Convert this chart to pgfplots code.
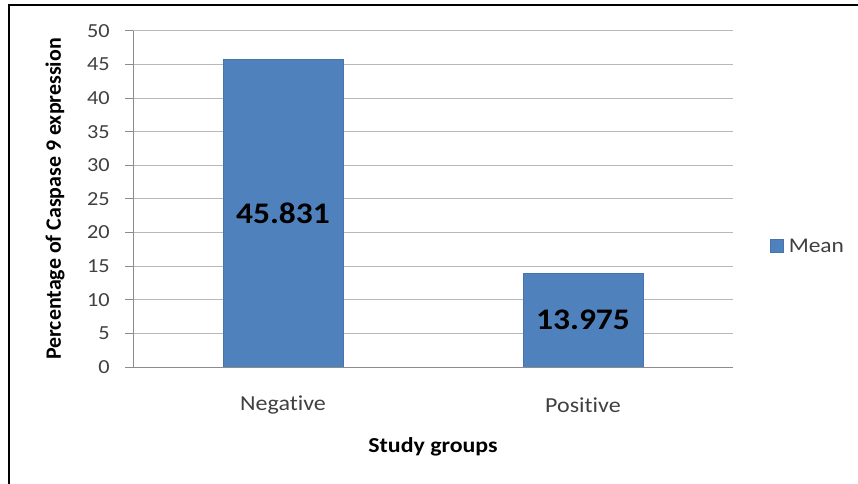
\documentclass[border=0pt]{standalone}
\usepackage{pgfplots}
\pgfplotsset{compat=1.18}
\usepackage{fontspec}
\setmainfont{Carlito}[FakeStretch=1.12, RawFeature=-liga]
\newfontfamily\ylabfont{Carlito}[RawFeature=-liga]
\definecolor{barblue}{HTML}{4F81BD}
\definecolor{gridgray}{HTML}{B8B8B8}
\definecolor{axgray}{HTML}{8C8C8C}
\definecolor{txtgray}{HTML}{404040}
\begin{document}
\begin{tikzpicture}
\useasboundingbox (0,0) rectangle (858bp,484bp);
\draw[line width=2.5bp] (9bp,0) -- (9bp,479bp) -- (858bp,479bp);
\begin{axis}[
  at={(133bp,117bp)}, anchor=south west,
  width=600bp, height=336bp, scale only axis,
  xmin=-0.5, xmax=1.5, ymin=0, ymax=50,
  ybar, bar width=120bp,
  xtick={0,1}, xticklabels={Negative,Positive},
  ytick={0,5,...,50},
  /pgf/number format/assume math mode=true,
  ymajorgrids, grid style={gridgray, line width=1bp},
  axis x line*=bottom, axis y line*=left,
  axis line style={axgray, line width=1bp},
  tick align=outside, major tick length=8bp,
  y tick style={axgray, line width=1bp},
  x tick style={draw=none},
  yticklabel style={font=\fontsize{20}{24}\selectfont, text=txtgray, anchor=east, inner sep=0pt, xshift=-15bp},
  xticklabel style={font=\fontsize{21.5}{24}\selectfont, text=txtgray, anchor=center, yshift=-30bp},
  xlabel={Study groups},
  xlabel style={font=\fontsize{21.4}{24}\selectfont\bfseries, at={(axis description cs:0.5,-0.238)}, anchor=center},
  ylabel={Percentage of Caspase  9 expression},
  ylabel style={font=\ylabfont\fontsize{22}{24}\selectfont\bfseries, at={(axis description cs:-0.13,0.5)}, anchor=center},
  legend style={at={(1.062,0.36)}, anchor=west, draw=none, fill=none, font=\fontsize{21}{24}\selectfont, text=txtgray, inner sep=0pt,
    /tikz/every even column/.append style={column sep=0pt}},
  legend image code/.code={\fill[#1] (0bp,-6.5bp) rectangle (13bp,6.5bp);},
  legend cell align=left,
  nodes near coords,
  point meta=explicit symbolic,
  visualization depends on={0.5*y \as \halfy},
  every node near coord/.append style={font=\fontsize{30}{32}\selectfont\bfseries, text=black, anchor=center, shift={(axis direction cs:0,-\halfy)}},
]
\addplot[fill=barblue, draw=barblue!90!black] coordinates {(0,45.831) [45.831] (1,13.975) [13.975]};
\addlegendentry{\hspace{3bp}Mean}
\end{axis}
\end{tikzpicture}
\end{document}
